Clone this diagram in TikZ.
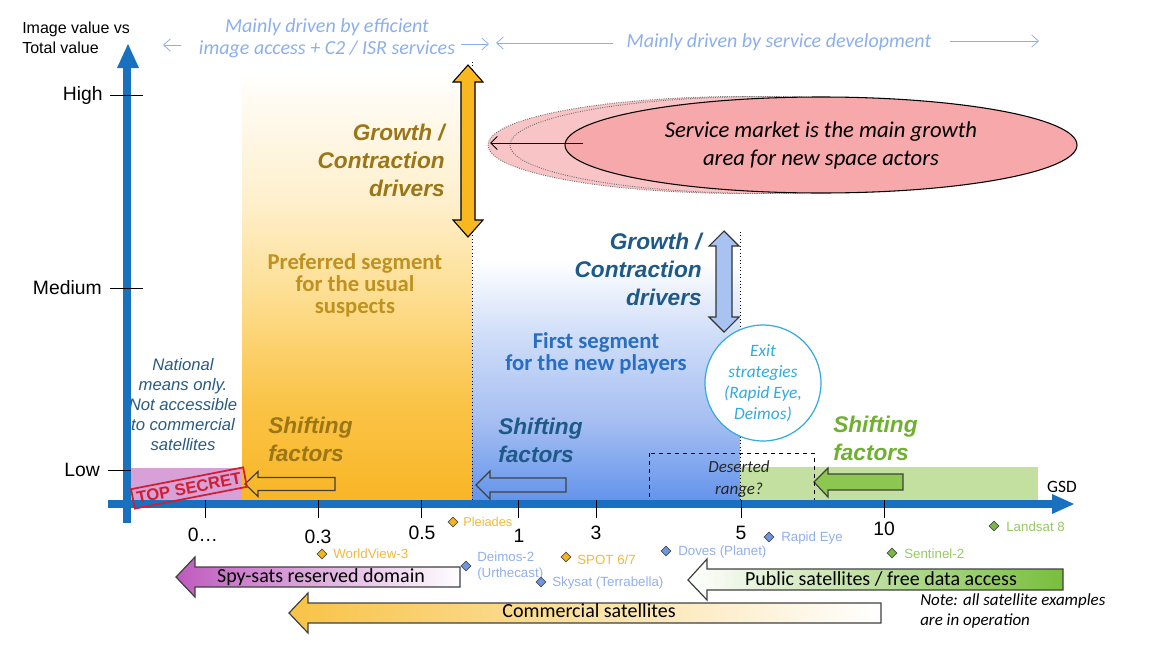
\documentclass[tikz,border=0pt]{standalone}
\usepackage{fontspec}
\setmainfont{Carlito}
\newfontfamily\arial{Liberation Sans}
\usetikzlibrary{arrows.meta,shapes.geometric}
\newcommand\myfs[2]{\fontsize{#1}{#2}\selectfont}
\definecolor{axisblue}{RGB}{24,112,190}
\definecolor{orB}{RGB}{249,182,38}
\definecolor{orQ}{RGB}{250,196,72}
\definecolor{orM}{RGB}{253,221,142}
\definecolor{orU}{RGB}{254,240,205}
\definecolor{orT}{RGB}{255,251,242}
\definecolor{blB}{RGB}{100,148,235}
\definecolor{blQ}{RGB}{165,190,242}
\definecolor{blM}{RGB}{205,220,248}
\definecolor{arrO}{RGB}{249,183,32}
\definecolor{arrB}{RGB}{168,195,242}
\definecolor{pinkE}{RGB}{247,168,170}
\definecolor{ghostE}{RGB}{249,196,198}
\definecolor{goldtxt}{RGB}{155,118,22}
\definecolor{preftxt}{RGB}{190,145,32}
\definecolor{dbtxt}{RGB}{30,90,135}
\definecolor{fstxt}{RGB}{40,110,195}
\definecolor{grtxt}{RGB}{112,176,48}
\definecolor{topblue}{RGB}{140,175,235}
\definecolor{exitblue}{RGB}{50,170,220}
\definecolor{nattxt}{RGB}{40,90,130}
\definecolor{satBl}{RGB}{145,175,235}
\definecolor{satBf}{RGB}{110,150,225}
\definecolor{satOl}{RGB}{240,185,60}
\definecolor{satOf}{RGB}{245,180,30}
\definecolor{satGl}{RGB}{150,200,100}
\definecolor{satGf}{RGB}{120,185,70}
\definecolor{pinkR}{RGB}{215,160,215}
\definecolor{greenR}{RGB}{196,224,160}
\definecolor{greenA}{RGB}{140,200,80}
\definecolor{stampred}{RGB}{210,30,50}
\definecolor{spyP}{RGB}{190,90,190}
\definecolor{comO}{RGB}{248,195,70}
\definecolor{pubG}{RGB}{120,190,60}
% the path's bounding box is mapped onto 25bp..75bp of the shading
\pgfdeclareverticalshading{orshade}{100bp}{color(0bp)=(orB); color(25bp)=(orB); color(36.7bp)=(orQ); color(48.4bp)=(orM); color(60bp)=(orU); color(71.7bp)=(orT); color(75bp)=(white); color(100bp)=(white)}
\pgfdeclareverticalshading{blshade}{100bp}{color(0bp)=(blB); color(25bp)=(blB); color(38bp)=(blQ); color(52bp)=(blM); color(65bp)=(white); color(100bp)=(white)}
\begin{document}
\begin{tikzpicture}[x=0.75pt,y=-0.75pt,
  growO/.style={font=\arial\bfseries\itshape\myfs{17}{21}, text=goldtxt, align=right, inner sep=0pt},
  growB/.style={font=\arial\bfseries\itshape\myfs{17}{21}, text=dbtxt, align=right, inner sep=0pt},
  shiftO/.style={font=\arial\bfseries\itshape\myfs{17}{21}, text=goldtxt, align=left, inner sep=0pt, anchor=west},
  shiftB/.style={font=\arial\bfseries\itshape\myfs{17}{21}, text=dbtxt, align=left, inner sep=0pt, anchor=west},
  shiftG/.style={font=\arial\bfseries\itshape\myfs{17}{21}, text=grtxt, align=left, inner sep=0pt, anchor=west},
  segtxt/.style={font=\bfseries\myfs{17}{16.5}, align=center, inner sep=0pt},
  toptxt/.style={font=\itshape\myfs{15}{16.5}, text=topblue, align=center, inner sep=0pt},
  toparr/.style={draw=topblue, line width=0.6pt, -{Straight Barb[length=5pt,width=9pt]}},
  ylbl/.style={font=\arial\myfs{14.5}{17}, anchor=east, inner sep=0pt},
  xlbl/.style={font=\arial\myfs{14.5}{17}, inner sep=0pt},
  sat/.style={diamond, draw=black!70, line width=0.5pt, inner sep=0pt, minimum size=7.5pt},
  satlbl/.style={font=\arial\myfs{10}{12}, anchor=west, inner sep=0pt, align=left},
  hollow/.style={draw=black!75, line width=0.9pt, line join=miter},
  bigarr/.style={draw=black!75, line width=0.9pt},
  bigtxt/.style={font=\myfs{15}{18}, inner sep=0pt},
  tick/.style={draw=black, line width=0.6pt}]
\useasboundingbox (0,0) rectangle (1158,650);
% background regions
\fill[shading=orshade] (242,72) rectangle (472,500);
\fill[shading=blshade] (472,200) rectangle (740,500);
\fill[pinkR] (131,468) rectangle (242,500);
\fill[greenR] (740,467) rectangle (1038,500);
% dotted lines
\draw[dotted, line width=0.6pt] (472,62) -- (472,500);
\draw[dotted, line width=0.6pt] (740,232) -- (740,505);
% ellipses
\fill[ghostE, draw=black!55, densely dotted, line width=0.7pt] (744,145) ellipse [x radius=256, y radius=48.5];
\fill[ghostE, draw=black!55, densely dotted, line width=0.7pt] (766,145) ellipse [x radius=256, y radius=48.5];
\node[ellipse, draw=black, line width=0.8pt, fill=pinkE, minimum width=384pt, minimum height=72pt, inner sep=0pt,
  font=\itshape\myfs{17}{21}, align=center] (svc) at (821,145) {Service market is the main growth\\area for new space actors};
\coordinate (svcA) at (583,143);
\coordinate (svcB) at (490,143);
\draw[line width=0.7pt, -{Straight Barb[length=5pt,width=10pt]}] (svcA) -- (svcB);
% double arrows
\draw[fill=arrO, line width=0.8pt, line join=miter] (468,65) -- (483,82) -- (475,82) -- (475,220) -- (483,220) -- (468,237) -- (453,220) -- (461,220) -- (461,82) -- (453,82) -- cycle;
\draw[fill=arrB, draw=black!80, line width=0.8pt, line join=miter] (724,231) -- (739,246) -- (732,246) -- (732,317) -- (739,317) -- (724,332) -- (709,317) -- (716,317) -- (716,246) -- (709,246) -- cycle;
% texts in regions
\node[growO, anchor=east] (gO) at (445,160) {Growth /\\Contraction\\drivers};
\node[segtxt, text=preftxt] (pref) at (355,285) {Preferred segment\\for the usual\\suspects};
\node[growB, anchor=east] (gB) at (702,269) {Growth /\\Contraction\\drivers};
\node[segtxt, text=fstxt] (first) at (596,353) {First segment\\for the new players};
\node[font=\arial\itshape\myfs{12.5}{15}, text=nattxt, align=center, inner sep=0pt] (nat) at (183,405) {National\\means only.\\Not accessible\\to commercial\\satellites};
\node[shiftO] (shO) at (268,439.5) {Shifting\\factors};
\node[shiftB] (shB) at (498,440) {Shifting\\factors};
\node[shiftG] (shG) at (833,438.5) {Shifting\\factors};
% hollow arrows
\draw[hollow] (245,484) -- (258,471.5) -- (258,477.5) -- (335,477.5) -- (335,490.5) -- (258,490.5) -- (258,496.5) -- cycle;
\draw[hollow] (476,485) -- (490,471) -- (490,478) -- (566,478) -- (566,492) -- (490,492) -- (490,499) -- cycle;
\draw[hollow, fill=greenA] (814,482) -- (828,468) -- (828,474) -- (903,474) -- (903,490) -- (828,490) -- (828,497) -- cycle;
% deserted range
\draw[dashed, line width=0.7pt] (649,453) rectangle (814,503);
\node[font=\itshape\myfs{12.7}{16.5}, align=center, inner sep=0pt, text=black!85] (des) at (739,479) {Deserted\\range?};
% exit circle
\node[circle, draw=exitblue, line width=0.9pt, fill=white, minimum size=87pt, inner sep=0pt,
  font=\itshape\myfs{13}{15.75}, text=exitblue, align=center] (exit) at (763,383) {Exit\\strategies\\(Rapid Eye,\\Deimos)};
% axes
\draw[axisblue, line width=6pt] (127,523) -- (127,66);
\fill[axisblue] (128,44) -- (139,68) -- (117,68) -- cycle;
\draw[axisblue, line width=6pt] (108,504) -- (1054,504);
\fill[axisblue] (1074,504) -- (1052,494) -- (1052,514) -- cycle;
% top secret
\node[draw=stampred, line width=1.3pt, text=stampred, font=\arial\bfseries\myfs{12.5}{14}, rotate=11, inner sep=3pt] (ts) at (189,488) {TOP SECRET};
% y axis labels
\node[font=\arial\myfs{12}{15}, align=left, inner sep=0pt, anchor=west] (ylab) at (22,38) {Image value vs\\Total value};
\node[ylbl] (yH) at (103,95) {High};
\node[ylbl] (yM) at (102,288) {Medium};
\node[ylbl] (yL) at (100,470) {Low};
\draw[tick] (110,95) -- (143,95);
\draw[tick] (110,288) -- (143,288);
\draw[tick] (108,470) -- (131,470);
% x ticks
\foreach \xx in {205,318,421,518,596,741,884} \draw[tick] (\xx,500) -- (\xx,518);
\node[xlbl] (x0) at (203,535) {0\ldots};
\node[xlbl] (x1) at (318,537) {0.3};
\node[xlbl] (x2) at (422,533) {0.5};
\node[xlbl] (x3) at (519,536) {1};
\node[xlbl] (x4) at (596,533) {3};
\node[xlbl] (x5) at (741,533) {5};
\node[xlbl] (x6) at (884,529) {10};
\node[font=\myfs{13}{15}, inner sep=0pt] (gsd) at (1062,487) {GSD};
% top annotations
\node[toptxt] (topL) at (327,38) {Mainly driven by efficient\\image access + C2 / ISR services};
\node[toptxt] (topR) at (779,42) {Mainly driven by service development};
\coordinate (tl1) at (181,45); \coordinate (tl2) at (163,45);
\coordinate (tm1) at (461,44); \coordinate (tm2) at (489,44);
\coordinate (tm3) at (613,43); \coordinate (tm4) at (496,43);
\coordinate (tr1) at (950,41); \coordinate (tr2) at (1039,41);
\draw[toparr] (tl1) -- (tl2);
\draw[toparr] (tm1) -- (tm2);
\draw[toparr] (tm3) -- (tm4);
\draw[toparr] (tr1) -- (tr2);
% satellites
\node[sat, fill=satOf] (pleD) at (453,522) {};
\node[satlbl, text=satOl, font=\arial\myfs{9.6}{12}] (pleL) at (463,522) {Pleiades};
\node[sat, fill=satOf] (wvD) at (322,554) {};
\node[satlbl, text=satOl] (wvL) at (333,554) {WorldView-3};
\node[sat, fill=satBf] (deiD) at (466,566) {};
\node[satlbl, text=satBl, font=\arial\myfs{10}{12.5}] (deiL) at (477,566) {Deimos-2\\(Urthecast)};
\node[sat, fill=satOf] (spD) at (566,557) {};
\node[satlbl, text=satOl] (spL) at (577,560) {SPOT 6/7};
\node[sat, fill=satBf] (skD) at (541,582) {};
\node[satlbl, text=satBl] (skL) at (552,583) {Skysat (Terrabella)};
\node[sat, fill=satBf] (doD) at (666,551) {};
\node[satlbl, text=satBl] (doL) at (678,552) {Doves (Planet)};
\node[sat, fill=satBf] (reD) at (769,537) {};
\node[satlbl, text=satBl] (reL) at (781,538) {Rapid Eye};
\node[sat, fill=satGf] (laD) at (994,526) {};
\node[satlbl, text=satGl] (laL) at (1006,527) {Landsat 8};
\node[sat, fill=satGf] (seD) at (892,553) {};
\node[satlbl, text=satGl] (seL) at (904,554) {Sentinel-2};
% bottom arrows
\draw[bigarr, left color=spyP, right color=white] (176,577) -- (195,557) -- (195,567) -- (460,567) -- (460,587) -- (195,587) -- (195,597) -- cycle;
\node[bigtxt] (spyT) at (321,577) {Spy-sats reserved domain};
\draw[bigarr, left color=white, right color=pubG] (688,580) -- (707,559) -- (707,569) -- (1063,569) -- (1063,590) -- (707,590) -- (707,600) -- cycle;
\node[bigtxt] (pubT) at (881,579) {Public satellites / free data access};
\draw[bigarr, left color=comO, right color=white] (289,613) -- (308,593) -- (308,603) -- (881,603) -- (881,623) -- (308,623) -- (308,633) -- cycle;
\node[bigtxt] (comT) at (589,611) {Commercial satellites};
\node[font=\itshape\myfs{12.7}{15}, align=left, inner sep=0pt, anchor=west] (note) at (920,611) {Note: all satellite examples\\are in operation};
\end{tikzpicture}
\end{document}
